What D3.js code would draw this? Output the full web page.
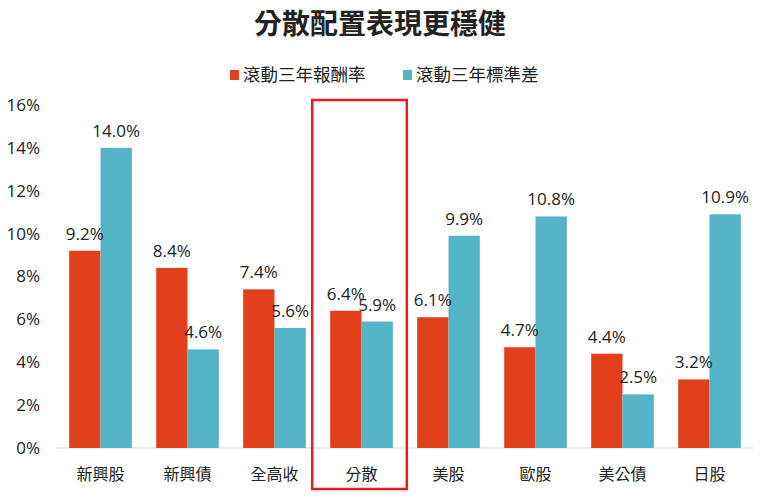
<!DOCTYPE html>
<html>
<head>
<meta charset="utf-8">
<script src="https://cdn.jsdelivr.net/npm/d3@7"></script>
<style>
  body { margin: 0; background: #fff; }
  text { font-family: "Open Sans", "Noto Sans CJK TC", sans-serif; fill: #222; }
</style>
</head>
<body>
<div id="chart"></div>
<script>
const categories = ['新興股', '新興債', '全高收', '分散', '美股', '歐股', '美公債', '日股'];
const seriesNames = ['滾動三年報酬率', '滾動三年標準差'];
const returns = [9.2, 8.4, 7.4, 6.4, 6.1, 4.7, 4.4, 3.2];
const stdevs  = [14.0, 4.6, 5.6, 5.9, 9.9, 10.8, 2.5, 10.9];
const yTicks  = [0, 2, 4, 6, 8, 10, 12, 14, 16];
const highlight = '分散';

const colors = ['#e2401c', '#52b4c6'];
const W = 760, H = 501;
const m = { top: 105, right: 7, bottom: 53, left: 57 };

const svg = d3.select('#chart').append('svg')
  .attr('width', W).attr('height', H);

const x = d3.scaleBand()
  .domain(categories)
  .range([m.left, W - m.right])
  .paddingInner(0.28)
  .paddingOuter(0.14);

const xSub = d3.scaleBand()
  .domain(seriesNames)
  .range([0, x.bandwidth()]);

const y = d3.scaleLinear()
  .domain([0, 16])
  .range([H - m.bottom, m.top]);

// title
svg.append('text')
  .attr('x', W / 2).attr('y', 34)
  .attr('text-anchor', 'middle')
  .style('font-size', '28px')
  .style('font-weight', 'bold')
  .style('font-family', '"Noto Sans CJK TC", sans-serif')
  .text('分散配置表現更穩健');

// legend
const legend = svg.append('g');
const legendX = [230, 403];
seriesNames.forEach((name, i) => {
  const g = legend.append('g').attr('transform', `translate(${legendX[i]},75)`);
  g.append('rect').attr('x', 0).attr('y', -5).attr('width', 9).attr('height', 10)
    .attr('fill', colors[i]);
  g.append('text').attr('x', 13).attr('y', 6)
    .style('font-size', '17.5px')
    .style('font-family', '"Noto Sans CJK TC", sans-serif')
    .text(name);
});

// y axis labels
const yAxis = svg.append('g')
  .attr('transform', `translate(${m.left},0)`)
  .call(d3.axisLeft(y).tickValues(yTicks).tickFormat(d => d + '%').tickSize(0).tickPadding(17));
yAxis.select('.domain').remove();
yAxis.selectAll('text').style('font-size', '17px').style('font-family', '"Open Sans", sans-serif').attr('fill', '#222');

// baseline
svg.append('line')
  .attr('x1', m.left).attr('x2', W - m.right)
  .attr('y1', y(0)).attr('y2', y(0))
  .attr('stroke', '#d9d9d9').attr('stroke-width', 1);

// bars
const rows = categories.map((c, i) => ({ cat: c, vals: [returns[i], stdevs[i]] }));
const groups = svg.selectAll('.grp')
  .data(rows)
  .join('g')
    .attr('class', 'grp')
    .attr('transform', d => `translate(${x(d.cat)},0)`);

groups.selectAll('rect')
  .data(d => d.vals.map((v, i) => ({ key: seriesNames[i], v, i })))
  .join('rect')
    .attr('x', d => xSub(d.key))
    .attr('y', d => y(d.v))
    .attr('width', xSub.bandwidth())
    .attr('height', d => y(0) - y(d.v))
    .attr('fill', d => colors[d.i]);

groups.selectAll('.val')
  .data(d => d.vals.map((v, i) => ({ key: seriesNames[i], v, i })))
  .join('text')
    .attr('class', 'val')
    .attr('x', d => xSub(d.key) + xSub.bandwidth() / 2)
    .attr('y', d => y(d.v) - 11)
    .attr('text-anchor', 'middle')
    .style('font-size', '17px')
    .text(d => d.v.toFixed(1) + '%');

// category labels
const xAxis = svg.append('g')
  .attr('transform', `translate(0,${y(0)})`)
  .call(d3.axisBottom(x).tickSize(0).tickPadding(21));
xAxis.select('.domain').remove();
xAxis.selectAll('text').style('font-size', '16px')
  .style('font-family', '"Noto Sans CJK TC", sans-serif').attr('fill', '#222');

// highlight box
svg.append('rect')
  .attr('x', x(highlight) - 18)
  .attr('y', y(16) - 5)
  .attr('width', x.bandwidth() + 32)
  .attr('height', y(0) - y(16) + 46)
  .attr('fill', 'none')
  .attr('stroke', '#e31e24')
  .attr('stroke-width', 2.5);
</script>
</body>
</html>
